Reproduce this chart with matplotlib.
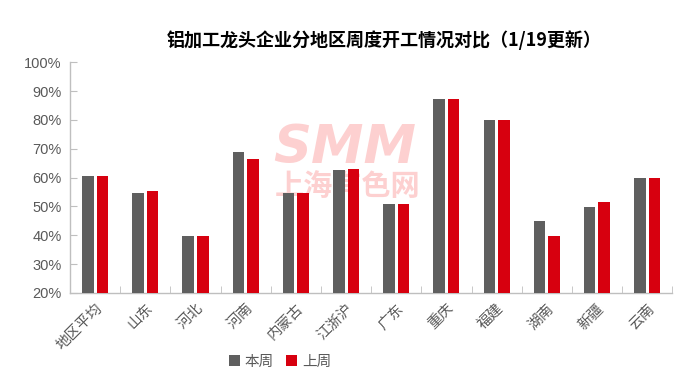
import matplotlib
matplotlib.use("Agg")
import matplotlib.pyplot as plt
import numpy as np

plt.rcParams['font.family'] = ['Noto Sans CJK SC', 'DejaVu Sans']

categories = ["地区平均", "山东", "河北", "河南", "内蒙古", "江浙沪", "广东", "重庆", "福建", "湖南", "新疆", "云南"]
this_week = [60.6, 54.6, 39.8, 68.8, 54.8, 62.6, 50.8, 87.1, 79.9, 44.9, 49.8, 59.7]
last_week = [60.6, 55.3, 39.8, 66.4, 54.8, 63.0, 50.8, 87.1, 79.9, 39.7, 51.5, 59.7]
series_names = ["本周", "上周"]
yticks = [20, 30, 40, 50, 60, 70, 80, 90, 100]
title = "铝加工龙头企业分地区周度开工情况对比（1/19更新）"

gray = "#5F5F5F"
red = "#D7000F"
txt = "#595959"

fig = plt.figure(figsize=(6.86, 3.79), dpi=100)
ax = fig.add_axes([0.102, 0.227, 0.878, 0.609])

x = np.arange(len(categories))
w = 0.23
off = 0.145
ax.bar(x - off, this_week, w, color=gray, label=series_names[0], zorder=3)
ax.bar(x + off, last_week, w, color=red, label=series_names[1], zorder=3)

ax.set_xlim(-0.5, len(categories) - 0.5)
ax.set_ylim(20, 100)
ax.set_yticks(yticks)
ax.set_yticklabels([f"{v}%" for v in yticks], color=txt, fontsize=10.5,
                   family=['Liberation Sans', 'DejaVu Sans'])
ax.set_xticks(x)
ax.set_xticklabels(categories, rotation=45, ha='right', rotation_mode='anchor',
                   color=txt, fontsize=10.5)
ax.set_xticks(np.arange(-0.5, len(categories) + 0.5, 1), minor=True)
ax.tick_params(axis='x', which='major', length=0, pad=6)
ax.tick_params(axis='x', which='minor', length=5, direction='in', color='#BFBFBF')
ax.tick_params(axis='y', length=5, direction='in', color='#BFBFBF', pad=6)

for s in ['top', 'right']:
    ax.spines[s].set_visible(False)
for s in ['left', 'bottom']:
    ax.spines[s].set_color('#BFBFBF')
    ax.spines[s].set_linewidth(1.0)

# watermark
fig.text(0.503, 0.61, "SMM", color="#FDD0D0", fontsize=38, fontweight='heavy',
         style='italic', ha='center', va='center', zorder=0,
         family=['DejaVu Sans'])
fig.text(0.506, 0.508, "上海有色网", color="#FDD0D0", fontsize=21, fontweight='bold',
         ha='center', va='center', zorder=0)
ax.set_zorder(1)
ax.patch.set_alpha(0)

fig.text(0.56, 0.895, title, fontsize=13, fontweight='heavy', ha='center', va='center',
         color='black')

leg = fig.legend(loc='center', bbox_to_anchor=(0.408, 0.045), ncol=2, frameon=False,
                 fontsize=10.5, handlelength=0.8, handleheight=0.8, handletextpad=0.3,
                 columnspacing=0.8)
for t in leg.get_texts():
    t.set_color(txt)

fig.savefig("out.png", dpi=100)
